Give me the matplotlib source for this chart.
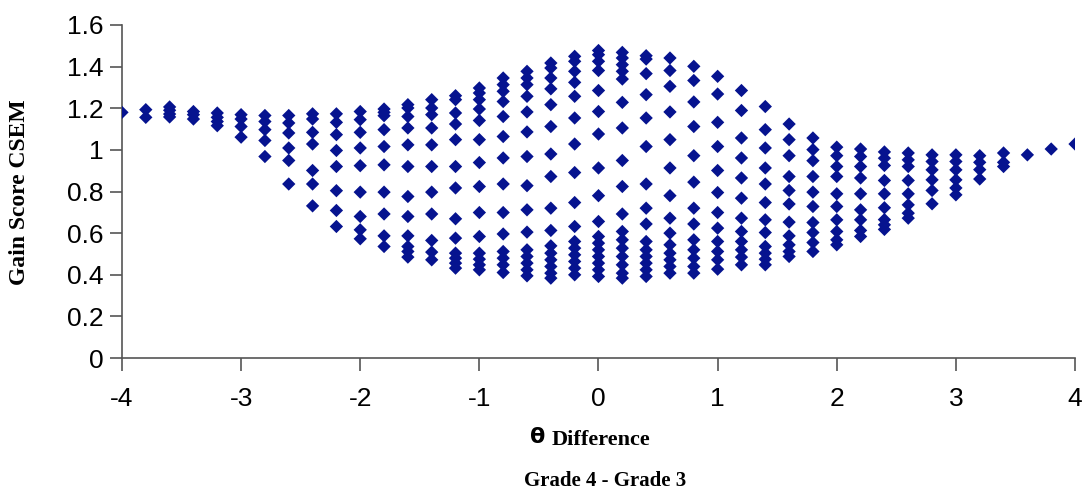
import numpy as np
import matplotlib.pyplot as plt

plt.rcParams['axes.unicode_minus'] = False

# theta difference columns (Grade 4 - Grade 3)
theta_diff = [-4.0, -3.8, -3.6, -3.4, -3.2, -3.0, -2.8, -2.6, -2.4, -2.2,
              -2.0, -1.8, -1.6, -1.4, -1.2, -1.0, -0.8, -0.6, -0.4, -0.2,
              0.0, 0.2, 0.4, 0.6, 0.8, 1.0, 1.2, 1.4, 1.6, 1.8,
              2.0, 2.2, 2.4, 2.6, 2.8, 3.0, 3.2, 3.4, 3.6, 3.8, 4.0]

# gain score CSEM values
csem = [
    [1.18],
    [1.193, 1.156],
    [1.206, 1.19, 1.172, 1.158],
    [1.184, 1.169, 1.148],
    [1.177, 1.156, 1.136, 1.116],
    [1.169, 1.148, 1.112, 1.061],
    [1.165, 1.136, 1.097, 1.045, 0.968],
    [1.165, 1.129, 1.081, 1.009, 0.949, 0.836],
    [1.173, 1.148, 1.084, 1.028, 0.901, 0.836, 0.731],
    [1.173, 1.132, 1.073, 0.997, 0.920, 0.804, 0.709, 0.632],
    [1.184, 1.145, 1.084, 1.009, 0.924, 0.797, 0.680, 0.616, 0.573],
    [1.196, 1.180, 1.164, 1.097, 1.016, 0.928, 0.797, 0.692, 0.587, 0.536],
    [1.217, 1.201, 1.160, 1.105, 1.024, 0.920, 0.776, 0.680, 0.587, 0.536, 0.512, 0.485],
    [1.241, 1.201, 1.169, 1.105, 1.024, 0.920, 0.797, 0.692, 0.565, 0.509, 0.472],
    [1.260, 1.241, 1.177, 1.124, 1.049, 0.920, 0.817, 0.669, 0.576, 0.504, 0.480, 0.456, 0.432],
    [1.297, 1.273, 1.241, 1.196, 1.141, 1.049, 0.939, 0.824, 0.699, 0.584, 0.504, 0.475, 0.448, 0.424],
    [1.345, 1.313, 1.281, 1.232, 1.160, 1.064, 0.961, 0.836, 0.699, 0.596, 0.512, 0.480, 0.448, 0.411],
    [1.377, 1.345, 1.313, 1.257, 1.182, 1.086, 0.968, 0.828, 0.712, 0.605, 0.520, 0.488, 0.456, 0.424, 0.395],
    [1.417, 1.393, 1.345, 1.293, 1.217, 1.112, 0.980, 0.872, 0.720, 0.613, 0.539, 0.504, 0.472, 0.440, 0.408, 0.384],
    [1.449, 1.425, 1.377, 1.324, 1.257, 1.153, 1.028, 0.891, 0.747, 0.632, 0.560, 0.528, 0.496, 0.464, 0.432, 0.400],
    [1.477, 1.457, 1.425, 1.381, 1.285, 1.184, 1.076, 0.913, 0.780, 0.656, 0.584, 0.552, 0.520, 0.488, 0.456, 0.424, 0.392],
    [1.468, 1.441, 1.409, 1.377, 1.340, 1.228, 1.105, 0.949, 0.824, 0.692, 0.608, 0.568, 0.528, 0.488, 0.448, 0.408, 0.384],
    [1.452, 1.436, 1.366, 1.265, 1.153, 1.016, 0.836, 0.720, 0.644, 0.560, 0.520, 0.488, 0.456, 0.424, 0.392],
    [1.441, 1.381, 1.305, 1.182, 1.049, 0.913, 0.780, 0.672, 0.600, 0.544, 0.504, 0.472, 0.440, 0.408],
    [1.401, 1.333, 1.230, 1.112, 0.972, 0.845, 0.720, 0.644, 0.568, 0.520, 0.480, 0.440, 0.408],
    [1.353, 1.268, 1.132, 1.016, 0.901, 0.795, 0.699, 0.624, 0.560, 0.512, 0.472, 0.427],
    [1.285, 1.189, 1.057, 0.961, 0.865, 0.768, 0.672, 0.608, 0.560, 0.520, 0.485, 0.448],
    [1.208, 1.097, 1.009, 0.913, 0.836, 0.747, 0.664, 0.603, 0.536, 0.504, 0.475, 0.448],
    [1.124, 1.049, 0.972, 0.872, 0.805, 0.740, 0.653, 0.587, 0.544, 0.512, 0.488],
    [1.057, 1.001, 0.948, 0.872, 0.797, 0.728, 0.651, 0.603, 0.555, 0.512],
    [1.013, 0.972, 0.920, 0.872, 0.789, 0.728, 0.664, 0.608, 0.568, 0.544],
    [1.004, 0.968, 0.920, 0.865, 0.789, 0.712, 0.664, 0.613, 0.584],
    [0.990, 0.960, 0.925, 0.853, 0.789, 0.722, 0.665, 0.640, 0.618],
    [0.985, 0.952, 0.920, 0.853, 0.789, 0.736, 0.696, 0.672],
    [0.976, 0.944, 0.904, 0.856, 0.805, 0.741],
    [0.976, 0.944, 0.904, 0.856, 0.817, 0.784],
    [0.972, 0.940, 0.905, 0.860],
    [0.985, 0.940, 0.920],
    [0.976],
    [1.004],
    [1.028],
]

xs = np.concatenate([[t] * len(c) for t, c in zip(theta_diff, csem)])
ys = np.concatenate(csem)

fig = plt.figure(figsize=(10.86, 4.96), dpi=100)
ax = fig.add_axes([0.1123, 0.278, 0.8776, 0.6718])

ax.scatter(xs, ys, marker='D', s=46, color='#06138f', edgecolors='none', zorder=3)

ax.set_xlim(-4, 4)
ax.set_ylim(0, 1.6)
ax.set_xticks(np.arange(-4, 5, 1))
ax.set_yticks(np.arange(0, 1.61, 0.2))
ax.set_yticklabels(['0', '0.2', '0.4', '0.6', '0.8', '1', '1.2', '1.4', '1.6'])

for s in ['top', 'right']:
    ax.spines[s].set_visible(False)
for s in ['left', 'bottom']:
    ax.spines[s].set_color('#555555')
    ax.spines[s].set_linewidth(1.2)

ax.tick_params(axis='both', direction='out', length=9, width=1.2, color='#555555',
               labelsize=19, labelfontfamily='Liberation Sans')
ax.tick_params(axis='x', pad=12)
ax.tick_params(axis='y', pad=4)

fig.text(0.018, 0.613, 'Gain Score CSEM', rotation=90, ha='center', va='center',
         family='Liberation Serif', weight='bold', fontsize=17)
fig.text(0.508, 0.113, 'Difference', ha='left', va='center',
         family='Liberation Serif', weight='bold', fontsize=16)
fig.text(0.495, 0.118, 'θ', ha='center', va='center',
         family='DejaVu Sans', weight='bold', fontsize=16)
fig.text(0.557, 0.030, 'Grade 4 - Grade 3', ha='center', va='center',
         family='Liberation Serif', weight='bold', fontsize=15)

fig.savefig('out.png', dpi=100)
